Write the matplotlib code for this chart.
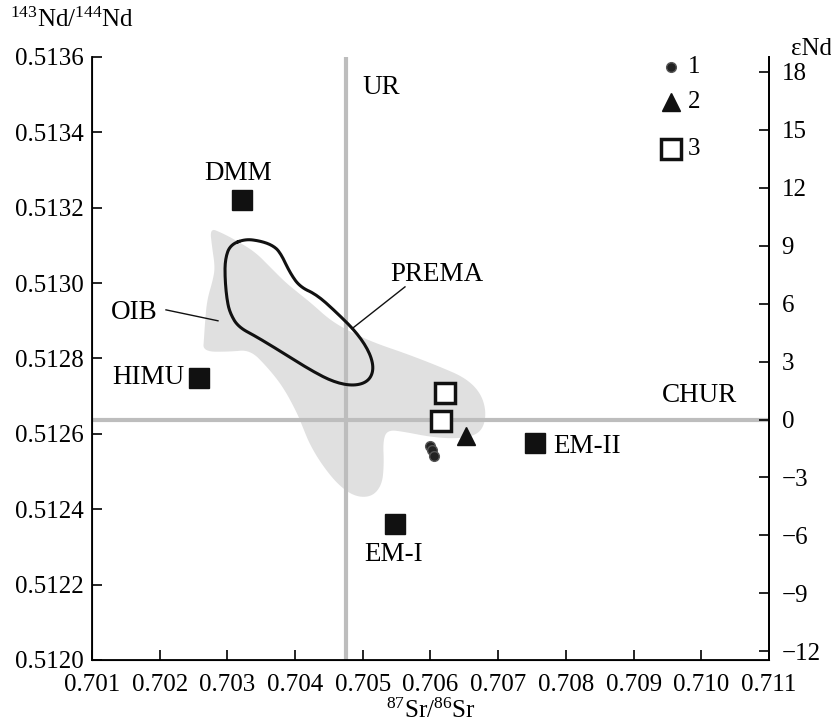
import matplotlib
matplotlib.use('Agg')
import matplotlib.pyplot as plt
from matplotlib.patches import Polygon
import numpy as np

plt.rcParams['font.family'] = ['Liberation Serif', 'DejaVu Serif']
plt.rcParams['mathtext.fontset'] = 'custom'
plt.rcParams['mathtext.rm'] = 'Liberation Serif'
plt.rcParams['mathtext.it'] = 'Liberation Serif:italic'

# reference lines
UR = 0.70475
CHUR = 0.512638

# mantle end members
end_names = ['DMM', 'HIMU', 'EM-I', 'EM-II']
end_sr = [0.70322, 0.70258, 0.70548, 0.70754]
end_nd = [0.51322, 0.512749, 0.512361, 0.512576]

# samples
s1_sr = [0.70600, 0.70602, 0.70605]
s1_nd = [0.512568, 0.512557, 0.512542]
s2_sr = [0.70652]
s2_nd = [0.512595]
s3_sr = [0.70621, 0.70616]
s3_nd = [0.512709, 0.512634]

# OIB field outline
oib_sr = [0.702743, 0.702920, 0.703112, 0.703408, 0.703629, 0.703851, 0.704028,
          0.704250, 0.704516, 0.704811, 0.705180, 0.705653, 0.706140, 0.706510,
          0.706731, 0.706820, 0.706790, 0.706657, 0.706362, 0.705993, 0.705623,
          0.705372, 0.705298, 0.705313, 0.705284, 0.705136, 0.704885, 0.704634,
          0.704397, 0.704220, 0.704117, 0.704028, 0.703821, 0.703585, 0.703334,
          0.703038, 0.702640, 0.702655, 0.702669, 0.702699, 0.702787, 0.702817,
          0.702773]
oib_nd = [0.513146, 0.513133, 0.513115, 0.513083, 0.513043, 0.513003, 0.512977,
          0.512945, 0.512902, 0.512871, 0.512841, 0.512812, 0.512778, 0.512749,
          0.512711, 0.512664, 0.512619, 0.512595, 0.512587, 0.512592, 0.512605,
          0.512611, 0.512584, 0.512518, 0.512465, 0.512433, 0.512433, 0.512465,
          0.512518, 0.512571, 0.512616, 0.512656, 0.512725, 0.512778, 0.512823,
          0.512818, 0.512818, 0.512855, 0.512894, 0.512955, 0.513009, 0.513043,
          0.513096]

# PREMA outline
prema_sr = [0.703260, 0.703038, 0.702965, 0.702965, 0.702994, 0.703038, 0.703157,
            0.703437, 0.703821, 0.704220, 0.704560, 0.704855, 0.705077, 0.705165,
            0.705106, 0.704914, 0.704619, 0.704323, 0.704072, 0.703925, 0.703777,
            0.703659, 0.703482]
prema_nd = [0.513117, 0.513101, 0.513062, 0.513009, 0.512955, 0.512921, 0.512884,
            0.512857, 0.512815, 0.512770, 0.512738, 0.512727, 0.512738, 0.512770,
            0.512815, 0.512868, 0.512921, 0.512969, 0.512990, 0.513027, 0.513083,
            0.513101, 0.513112]

x_ticks = [0.701, 0.702, 0.703, 0.704, 0.705, 0.706, 0.707, 0.708, 0.709, 0.710, 0.711]
y_ticks = [0.5120, 0.5122, 0.5124, 0.5126, 0.5128, 0.5130, 0.5132, 0.5134, 0.5136]
eps_ticks = [-12, -9, -6, -3, 0, 3, 6, 9, 12, 15, 18]
legend_labels = ['1', '2', '3']


def smooth(xs, ys, n=3):
    # closed chaikin smoothing
    p = np.column_stack([xs, ys])
    for _ in range(n):
        q = np.roll(p, -1, axis=0)
        a = 0.75 * p + 0.25 * q
        b = 0.25 * p + 0.75 * q
        p = np.stack([a, b], axis=1).reshape(-1, 2)
    return p


fig = plt.figure(figsize=(8.31, 7.27), dpi=100)
ax = fig.add_axes([0.1107, 0.0922, 0.8147, 0.8294])

ax.add_patch(Polygon(smooth(oib_sr, oib_nd), closed=True, facecolor='#e0e0e0', edgecolor='none', zorder=1))
ax.axvline(UR, color='#bdbdbd', lw=3, zorder=2)
ax.axhline(CHUR, color='#bdbdbd', lw=3, zorder=2)
pp = smooth(prema_sr, prema_nd)
pp = np.vstack([pp, pp[:1]])
ax.plot(pp[:, 0], pp[:, 1], color='#111111', lw=2.2, zorder=3)

ax.plot(end_sr, end_nd, 's', color='#111111', ms=14, zorder=4)
ax.plot(s3_sr, s3_nd, 's', mfc='white', mec='#111111', mew=2.5, ms=14, zorder=4)
ax.plot(s2_sr, s2_nd, '^', color='#111111', ms=13, zorder=4)
ax.plot(s1_sr, s1_nd, 'o', mfc='#222222', mec='#555555', mew=1, ms=7, zorder=4)

fs = 18
fa = 19.5
ax.text(0.70316, 0.51329, 'DMM', fontsize=fa, ha='center', va='center')
ax.text(0.70236, 0.512749, 'HIMU', fontsize=fa, ha='right', va='center')
ax.text(0.70546, 0.512279, 'EM-I', fontsize=fa, ha='center', va='center')
ax.text(0.70782, 0.512566, 'EM-II', fontsize=fa, ha='left', va='center')
ax.text(0.70500, 0.513518, 'UR', fontsize=fa, ha='left', va='center')
ax.text(0.70997, 0.512701, 'CHUR', fontsize=fa, ha='center', va='center')
ax.text(0.70163, 0.512921, 'OIB', fontsize=fa, ha='center', va='center')
ax.plot([0.702093, 0.702861], [0.512929, 0.512900], color='#111111', lw=1)
ax.text(0.70610, 0.513022, 'PREMA', fontsize=fa, ha='center', va='center')
ax.plot([0.705623, 0.704840], [0.512990, 0.512879], color='#111111', lw=1)

ax.set_xlim(0.701, 0.711)
ax.set_ylim(0.5120, 0.5136)
ax.set_xticks(x_ticks)
ax.set_xticklabels([f'{v:.3f}' for v in x_ticks])
ax.set_yticks(y_ticks)
ax.set_yticklabels([f'{v:.4f}' for v in y_ticks])
ax.spines['top'].set_visible(False)
for s in ['left', 'right', 'bottom']:
    ax.spines[s].set_linewidth(1.3)
ax.tick_params(direction='in', length=7, width=1.2, labelsize=fs)
ax.tick_params(axis='x', pad=10)
ax.tick_params(axis='y', pad=6)

ax2 = ax.twinx()
ax2.set_ylim(ax.get_ylim())
ax2.set_yticks([CHUR * (1 + e / 1e4) for e in eps_ticks])
ax2.set_yticklabels([f'{e}'.replace('-', '\u2212') for e in eps_ticks])
ax2.spines['top'].set_visible(False)
ax2.spines['right'].set_linewidth(1.3)
ax2.tick_params(direction='in', length=7, width=1.2, labelsize=fs, pad=9)

# legend keys
leg_y = [0.983, 0.926, 0.847]
ax.plot(0.855, leg_y[0], 'o', mfc='#222222', mec='#555555', ms=7, transform=ax.transAxes, clip_on=False)
ax.plot(0.855, leg_y[1], '^', color='#111111', ms=13, transform=ax.transAxes, clip_on=False)
ax.plot(0.855, leg_y[2], 's', mfc='white', mec='#111111', mew=2.5, ms=14, transform=ax.transAxes, clip_on=False)
for yy, lab in zip(leg_y, legend_labels):
    ax.text(0.880, yy, lab, fontsize=fs, ha='left', va='center', transform=ax.transAxes)

fig.text(0.012, 0.973, r'$^{143}$Nd/$^{144}$Nd', fontsize=fs, ha='left', va='center')
fig.text(0.952, 0.933, '\u03b5Nd', fontsize=fs, ha='left', va='center')
ax.set_xlabel(r'$^{87}$Sr/$^{86}$Sr', fontsize=fs, labelpad=2)

fig.savefig('out.png', dpi=100)
